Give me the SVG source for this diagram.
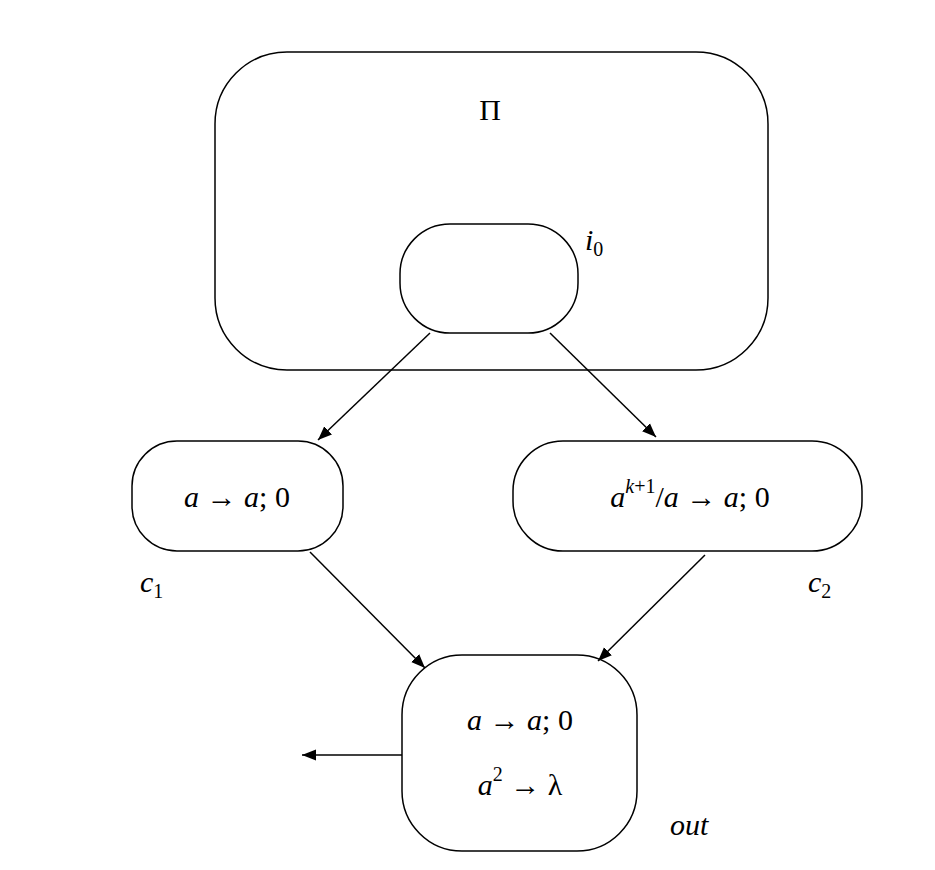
<svg xmlns="http://www.w3.org/2000/svg" width="935" height="870" viewBox="0 0 935 870">
<style>
.b{fill:none;stroke:#000;stroke-width:1.5}
.t{font-family:'Liberation Serif','DejaVu Serif','Times New Roman',serif;font-size:30px;fill:#000}
.i{font-style:italic}
.c line{stroke:#000;stroke-width:1.5;marker-end:url(#ah)}
</style>
<defs><marker id="ah" viewBox="0 0 10 10" refX="10" refY="5" markerWidth="14" markerHeight="14" markerUnits="userSpaceOnUse" orient="auto"><path d="M0,1 L10,5 L0,9 Z" fill="#000"/></marker></defs>
<rect width="935" height="870" fill="#fff"/>
<g id="Pi"><rect class="b" x="215" y="52" width="553" height="318" rx="72"/><text class="t" x="490" y="120" text-anchor="middle">Π</text></g>
<g id="i0"><rect class="b" x="400" y="224" width="178" height="109" rx="50"/><text class="t i" x="585" y="250">i<tspan font-size="20" font-style="normal" dy="6">0</tspan></text></g>
<g id="c1"><rect class="b" x="132" y="441" width="211" height="110" rx="45"/><text class="t" x="237" y="507" text-anchor="middle"><tspan class="i">a</tspan> → <tspan class="i">a</tspan>; 0</text><text class="t i" x="140" y="592">c<tspan font-size="20" font-style="normal" dy="6">1</tspan></text></g>
<g id="c2"><rect class="b" x="513" y="441" width="349" height="110" rx="50"/><text class="t" x="690" y="507" text-anchor="middle"><tspan class="i">a</tspan><tspan font-size="20" dy="-14"><tspan class="i">k</tspan>+1</tspan><tspan dy="14">/</tspan><tspan class="i">a</tspan> → <tspan class="i">a</tspan>; 0</text><text class="t i" x="808" y="592">c<tspan font-size="20" font-style="normal" dy="6">2</tspan></text></g>
<g id="out"><rect class="b" x="402" y="655" width="235" height="196" rx="60"/><text class="t" x="520" y="730" text-anchor="middle"><tspan class="i">a</tspan> → <tspan class="i">a</tspan>; 0</text><text class="t" x="520" y="795" text-anchor="middle"><tspan class="i">a</tspan><tspan font-size="20" dy="-14">2</tspan><tspan dy="14"> → λ</tspan></text><text class="t i" x="670" y="835">out</text></g>
<g class="c" id="connectors">
<line x1="430" y1="333" x2="318" y2="440"/>
<line x1="550" y1="333" x2="656" y2="437"/>
<line x1="310" y1="552" x2="425" y2="668"/>
<line x1="705" y1="555" x2="598" y2="661"/>
<line x1="402" y1="755" x2="302" y2="755"/>
</g>
</svg>
